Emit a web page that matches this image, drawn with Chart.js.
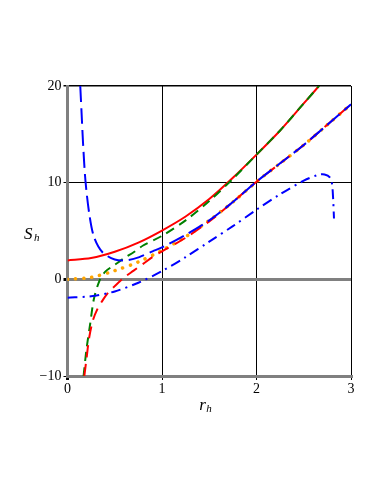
<!DOCTYPE html>
<html>
<head>
<meta charset="utf-8">
<script src="https://cdn.jsdelivr.net/npm/chart.js@4/dist/chart.umd.min.js"></script>
<style>
    html, body { margin: 0; padding: 0; background: #fff; }
    #wrap { width: 382px; height: 494px; }
</style>
</head>
<body>
<div id="wrap"><canvas id="entropy"></canvas></div>
<script>
// values (r_h, S_h)
const redSolidR = [0, 0.25, 0.5, 0.75, 1.0, 1.25, 1.5, 1.75, 2.0, 2.25, 2.5, 2.66, 2.72];
const redSolidS = [1.96, 2.2, 2.85, 3.8, 5.05, 6.5, 8.3, 10.5, 12.9, 15.4, 18.2, 20, 20.8];

const greenR = [0.17, 0.2, 0.24, 0.28, 0.34, 0.4, 0.5, 0.6, 0.7, 0.8, 1.0, 1.25, 1.5, 1.75, 2.0, 2.25, 2.5, 2.66, 2.72];
const greenS = [-10, -7.3, -4.6, -2.0, -0.1, 0.8, 1.5, 2.2, 2.8, 3.5, 4.5, 6.1, 8.1, 10.4, 12.9, 15.4, 18.2, 20, 20.8];

const redDashR = [0.178, 0.2, 0.23, 0.27, 0.32, 0.37, 0.42, 0.5, 0.6, 0.7, 0.8, 0.9, 1.0, 1.25, 1.5, 1.75, 2.0, 2.25, 2.5, 2.75, 3.0];
const redDashS = [-10, -8.3, -6.0, -4.2, -3.0, -2.2, -1.5, -0.7, 0.2, 0.9, 1.6, 2.3, 2.9, 4.3, 6.0, 8.0, 10.1, 12.0, 13.9, 16.0, 18.1];

const orangeR = [0, 0.25, 0.5, 0.75, 1.0, 1.25, 1.5, 1.75, 2.0, 2.25, 2.5, 2.75, 3.0];
const orangeS = [0, 0.2, 0.9, 1.8, 3.0, 4.4, 6.1, 8.0, 10.1, 12.0, 13.9, 16.0, 18.1];

const blueDashR = [0.135, 0.15, 0.165, 0.19, 0.23, 0.28, 0.37, 0.5, 0.62, 0.76, 0.9, 1.0, 1.25, 1.5, 1.75, 2.0, 2.25, 2.5, 2.75, 3.0];
const blueDashS = [20, 17, 14, 10.2, 6.8, 4.4, 2.8, 2.05, 1.96, 2.3, 2.9, 3.3, 4.6, 6.1, 8.0, 10.1, 12.0, 13.9, 16.0, 18.1];

const blueDotR = [0, 0.25, 0.5, 0.75, 1.0, 1.25, 1.5, 1.75, 2.0, 2.25, 2.5, 2.65, 2.72, 2.78, 2.8, 2.81, 2.82];
const blueDotS = [-1.9, -1.75, -1.25, -0.35, 0.85, 2.3, 3.9, 5.5, 7.2, 8.8, 10.2, 10.8, 10.85, 10.5, 9.8, 8.5, 6.3];

const xTicks = [0, 1, 2, 3];
const yTicks = [-10, 0, 10, 20];

const GREY = '#808080';

function pts(rs, ss) {
    return rs.map((r, i) => ({x: r, y: ss[i]}));
}

function series(rs, ss, color, dash, width, order, extra) {
    return Object.assign({
        data: pts(rs, ss),
        borderColor: color,
        borderWidth: width,
        borderDash: dash,
        pointRadius: 0,
        showLine: true,
        fill: false,
        tension: 0.3,
        order: order
    }, extra || {});
}

const titles = {
    id: 'titles',
    afterDraw(chart) {
        const c = chart.ctx;
        const area = chart.chartArea;
        c.save();
        c.fillStyle = '#000';
        c.textBaseline = 'alphabetic';
        // y title
        c.font = 'italic 17px "Liberation Serif"';
        c.fillText('S', 24, 239);
        c.font = 'italic 11px "Liberation Serif"';
        c.fillText('h', 34, 241);
        // x title
        const cx = (area.left + area.right) / 2;
        c.font = 'italic 17px "Liberation Serif"';
        c.fillText('r', cx - 10, 410);
        c.font = 'italic 11px "Liberation Serif"';
        c.fillText('h', cx - 3, 412);
        c.restore();
    }
};

new Chart(document.getElementById('entropy'), {
    type: 'scatter',
    data: {
        datasets: [
            series(redSolidR, redSolidS, '#ff0000', [], 2, 5),
            series(greenR, greenS, '#008000', [9, 6], 2, 4),
            series(orangeR, orangeS, '#ffa500', [0.1, 8], 3.5, 6, {borderCapStyle: 'round'}),
            series(redDashR, redDashS, '#ff0000', [12, 7], 2, 3),
            series(blueDashR, blueDashS, '#0000ff', [16, 6], 2, 2),
            series(blueDotR, blueDotS, '#0000ff', [10, 5, 2, 5], 2, 1)
        ]
    },
    options: {
        responsive: true,
        maintainAspectRatio: false,
        animation: false,
        layout: {
            padding: {top: 86, right: 31, bottom: 88, left: 0}
        },
        plugins: {
            legend: {display: false},
            tooltip: {enabled: false}
        },
        scales: {
            x: {
                type: 'linear',
                min: 0,
                max: 3,
                afterFit: scale => { scale.height = 30; },
                afterBuildTicks: scale => { scale.ticks = xTicks.map(v => ({value: v})); },
                border: {color: GREY, width: 3},
                grid: {
                    color: ctx => ctx.tick && ctx.tick.value === 0 ? GREY : '#000',
                    lineWidth: ctx => ctx.tick && ctx.tick.value === 0 ? 3 : 1,
                    tickColor: '#000',
                    tickLength: 4
                },
                ticks: {
                    color: '#000',
                    padding: 1,
                    maxRotation: 0,
                    font: {family: 'Liberation Serif', size: 14}
                }
            },
            y: {
                min: -10,
                max: 20,
                afterFit: scale => { scale.width = 67.5; },
                afterBuildTicks: scale => { scale.ticks = yTicks.map(v => ({value: v})); },
                border: {color: GREY, width: 3},
                grid: {
                    color: ctx => ctx.tick && (ctx.tick.value === 0 || ctx.tick.value === -10) ? GREY : '#000',
                    lineWidth: ctx => ctx.tick && ctx.tick.value === 0 ? 3 : (ctx.tick && ctx.tick.value === 20 ? 1.5 : 1),
                    tickColor: '#000',
                    tickLength: 4
                },
                ticks: {
                    color: '#000',
                    padding: 2,
                    font: {family: 'Liberation Serif', size: 14},
                    callback: v => String(v).replace('-', '\u2212')
                }
            }
        }
    },
    plugins: [titles]
});
</script>
</body>
</html>
